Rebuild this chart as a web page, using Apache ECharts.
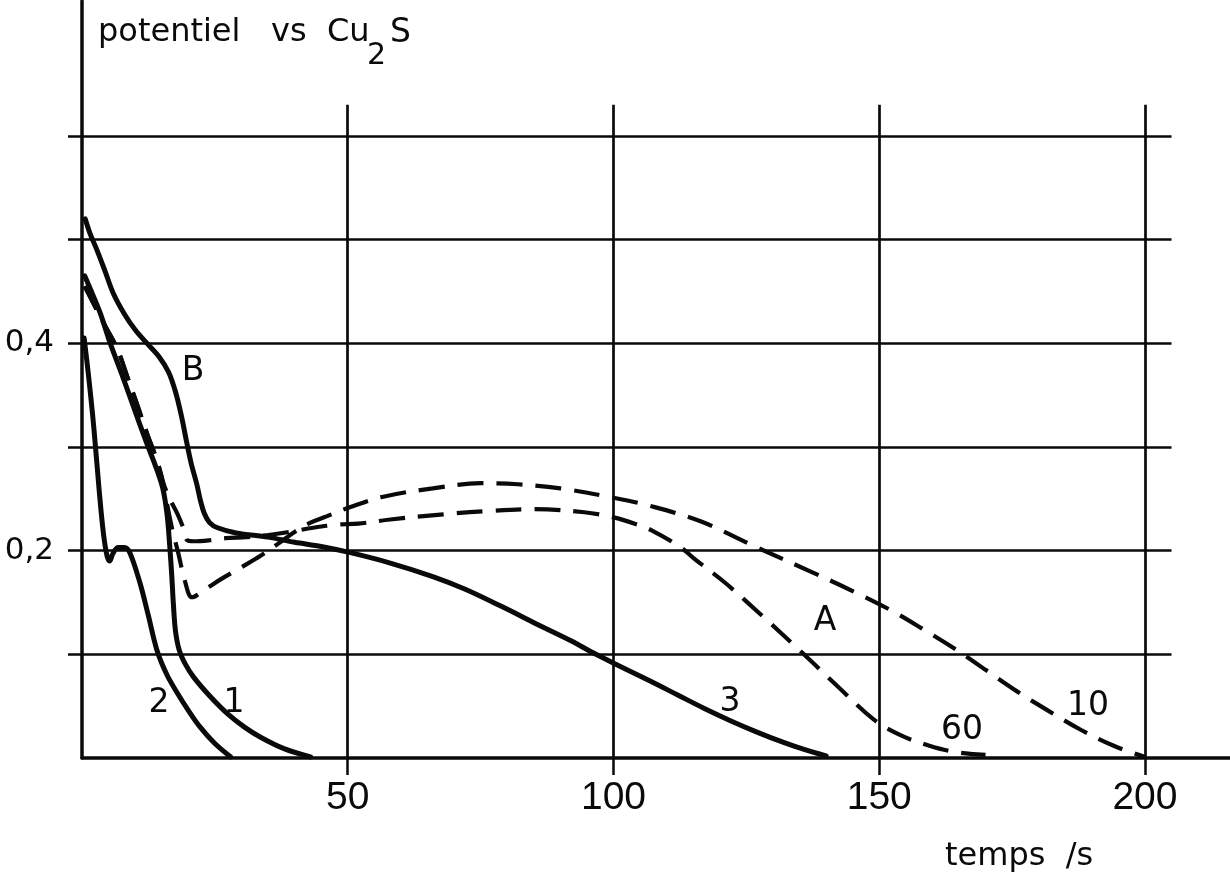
<!DOCTYPE html>
<html><head><meta charset="utf-8">
<script src="https://cdn.jsdelivr.net/npm/echarts@6/dist/echarts.min.js"></script>
<style>html,body{margin:0;padding:0;background:#fff}#c{width:1230px;height:879px}</style>
</head><body><div id="c"></div>
<script>
// tick labels / grid values
const xTickValues = [50, 100, 150, 200];
const yLabelValues = [0.2, 0.4];
const yGridValues = [0.1, 0.2, 0.3, 0.4, 0.5, 0.6];

// curves: [temps /s, potentiel]
const curve1 = [[0.5,0.465],[2,0.447],[3.5,0.428],[5.3,0.4],[7.5,0.37],[9.6,0.34],[12,0.306],[13.8,0.282],[15.2,0.26],[16,0.235],[16.5,0.205],[16.9,0.175],[17.2,0.148],[17.6,0.122],[18.3,0.104],[19.5,0.09],[21,0.078],[24,0.06],[27.3,0.043],[30.5,0.03],[33.6,0.02],[38,0.009],[43,0.001]];
const curve2 = [[0.4,0.405],[1.2,0.37],[2.2,0.32],[3.2,0.26],[4,0.218],[4.7,0.195],[5.2,0.19],[5.8,0.197],[6.8,0.203],[8,0.203],[9,0.198],[10.9,0.169],[12.5,0.137],[14.1,0.104],[16,0.08],[17.9,0.063],[20,0.046],[22.2,0.03],[25,0.014],[28,0.001]];
const curve3 = [[0.6,0.52],[1.5,0.506],[2.8,0.49],[4.3,0.47],[5.9,0.448],[8,0.428],[10,0.413],[12.2,0.4],[14.5,0.387],[16.3,0.372],[17.6,0.353],[18.7,0.33],[19.6,0.307],[20.5,0.285],[21.6,0.264],[22.3,0.248],[23,0.236],[24,0.227],[25.5,0.222],[29,0.217],[35,0.213],[40,0.208],[45,0.204],[50.5,0.198],[58,0.188],[66,0.175],[72,0.163],[79,0.146],[86,0.128],[92,0.113],[96.7,0.1],[101,0.089],[107,0.074],[112,0.061],[117,0.048],[122,0.036],[127,0.025],[132,0.015],[136,0.008],[140,0.002]];
const curve10 = [[0.5,0.455],[2,0.44],[4,0.42],[6.6,0.395],[8.5,0.368],[10.5,0.339],[12.3,0.312],[14.1,0.287],[15.3,0.265],[16,0.245],[17,0.22],[18.1,0.198],[19.4,0.17],[20.7,0.155],[23,0.162],[26,0.172],[30,0.184],[33.6,0.195],[37,0.207],[40,0.218],[43,0.227],[46,0.233],[50.5,0.242],[56.7,0.252],[66,0.26],[75,0.265],[82,0.264],[90,0.26],[100,0.251],[107,0.243],[116.5,0.228],[126.6,0.204],[137,0.18],[145,0.161],[152,0.143],[158,0.125],[164,0.106],[170,0.085],[176,0.064],[182,0.045],[188,0.027],[194,0.012],[200,0.001]];
const curve60 = [[0.5,0.455],[2,0.44],[4,0.42],[6.6,0.395],[8.5,0.368],[10.5,0.339],[12.3,0.312],[14.1,0.287],[15.3,0.265],[16.6,0.249],[18,0.235],[19.2,0.22],[19.8,0.21],[21,0.209],[24,0.21],[27,0.212],[31,0.213],[35,0.215],[39,0.218],[43.5,0.222],[48,0.225],[52,0.226],[58,0.23],[68,0.235],[76,0.238],[85,0.24],[94.5,0.237],[100,0.232],[104,0.226],[107,0.22],[112.7,0.203],[115,0.193],[121,0.169],[128,0.137],[135,0.104],[142,0.07],[149,0.037],[154,0.022],[159.3,0.012],[164,0.006],[170,0.003]];

const INK = '#0a0a0a';
const gridXEnd = 205, vGridTop = 0.63;

const hLines = yGridValues.map(v => [{coord:[0, v]}, {coord:[gridXEnd, v]}]);
const vLines = xTickValues.map(v => [{coord:[v, 0]}, {coord:[v, vGridTop]}]);

function solid(name, data) {
  return {name, type:'line', data, showSymbol:false, symbol:'none', smooth:0.35,
    lineStyle:{color:INK, width:5, cap:'round', join:'round'}, z:5, silent:true};
}
function dashed(name, data) {
  return {name, type:'line', data, showSymbol:false, symbol:'none', smooth:0.35,
    lineStyle:{color:INK, width:4.2, type:[26,13], cap:'butt'}, z:5, silent:true};
}

const chart = echarts.init(document.getElementById('c'), null, {renderer:'canvas'});
const txt = (x, y, text, size) => ({type:'text', x, y, silent:true,
  style:{text, fill:INK, font: size + 'px "DejaVu Sans"', align:'center', verticalAlign:'middle', textAlign:'center', textVerticalAlign:'middle'}});
const lbl = (x, y, text, size) => ({type:'text', x, y, silent:true,
  style:{text, fill:INK, font: size + 'px "DejaVu Sans"', verticalAlign:'middle', textVerticalAlign:'middle'}});

chart.setOption({
  animation:false,
  backgroundColor:'#ffffff',
  grid:{left:82, right:0, top:1, bottom:121, containLabel:false},
  xAxis:{type:'value', min:0, max:216,
    axisLine:{show:true, lineStyle:{color:INK, width:3.5}},
    axisTick:{show:true, customValues:xTickValues, length:17, inside:false, lineStyle:{color:INK, width:2.5}},
    axisLabel:{show:true, customValues:xTickValues, color:INK, fontSize:39, fontFamily:'"Liberation Sans", Arial, sans-serif', margin:21},
    splitLine:{show:false}},
  yAxis:{type:'value', min:0, max:0.73,
    axisLine:{show:true, lineStyle:{color:INK, width:3.5}},
    axisTick:{show:true, customValues:yGridValues, length:14, inside:false, lineStyle:{color:INK, width:2.5}},
    axisLabel:{show:true, customValues:yLabelValues, color:INK, fontSize:31, fontFamily:'"DejaVu Sans", sans-serif', margin:28,
      formatter: v => v.toFixed(1).replace('.', ',')},
    splitLine:{show:false}},
  series:[
    {name:'grid', type:'line', data:[], silent:true, z:1,
      markLine:{silent:true, symbol:['none','none'], label:{show:false}, animation:false,
        lineStyle:{color:INK, width:2.7, type:'solid'}, data: hLines.concat(vLines)}},
    solid('1', curve1),
    solid('2', curve2),
    solid('3', curve3),
    dashed('10', curve10),
    dashed('60', curve60)
  ],
  graphic:[
    lbl(98, 33, 'potentiel   vs  Cu', 32),
    lbl(367, 56, '2', 30),
    lbl(390, 33, 'S', 33),
    lbl(945, 857, 'temps  /s', 32),
    txt(193, 371, 'B', 33),
    txt(825, 621, 'A', 33),
    txt(234, 703, '1', 33),
    txt(159, 703, '2', 33),
    txt(730, 702, '3', 33),
    txt(962, 730, '60', 33),
    txt(1088, 706, '10', 33)
  ]
});
</script></body></html>
